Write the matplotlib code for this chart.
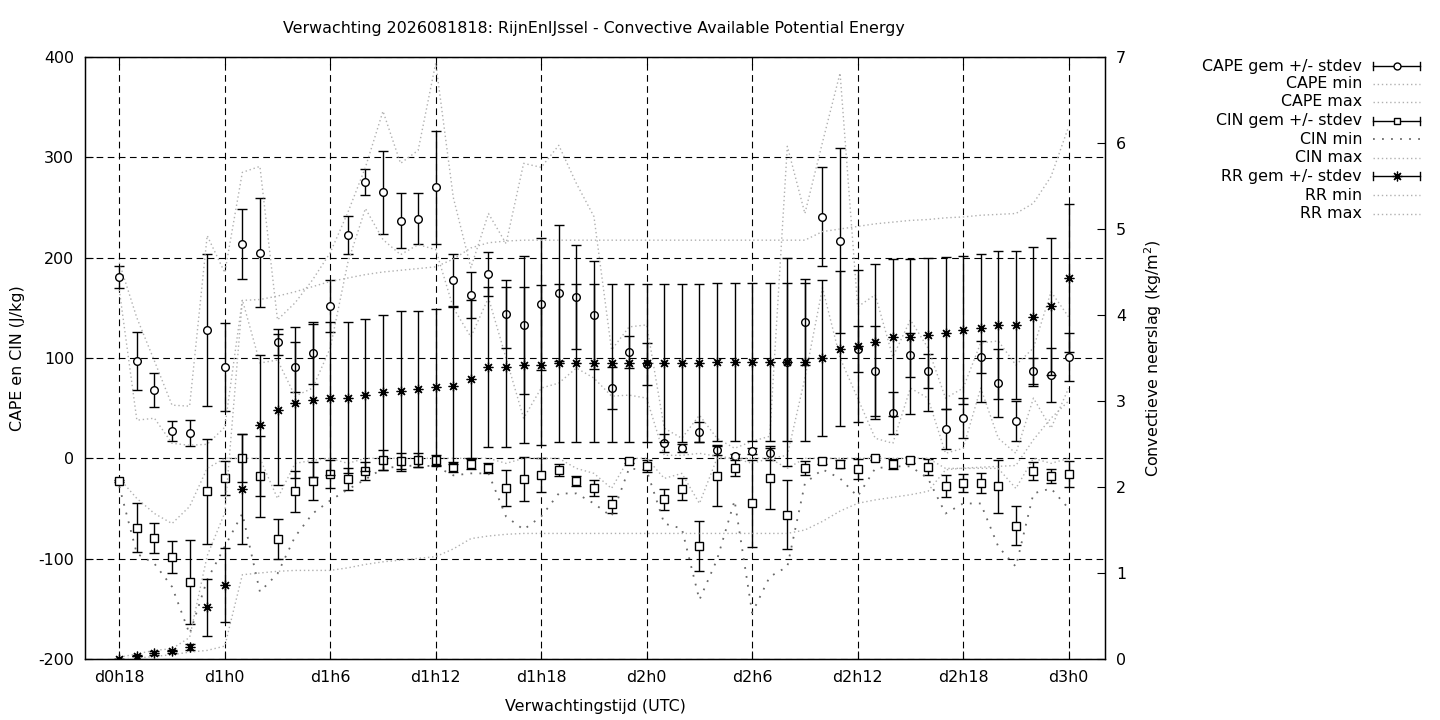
import matplotlib
matplotlib.use("Agg")
import matplotlib.pyplot as plt
from matplotlib.lines import Line2D

# ---------------- data (hours 18 .. 72, hourly) ----------------
hours = list(range(18, 73))
tick_hours = [18, 24, 30, 36, 42, 48, 54, 60, 66, 72]
tick_labels = ["d0h18", "d1h0", "d1h6", "d1h12", "d1h18", "d2h0", "d2h6", "d2h12", "d2h18", "d3h0"]

cape_mean = [181, 97, 68, 27, 25, 128, 91, 214, 205, 116, 91, 105, 152, 223, 275, 265, 237, 239, 270,
             178, 163, 184, 144, 133, 154, 165, 161, 143, 70, 106, 94, 15, 10, 26, 8, 2, 7, 5, 96,
             136, 241, 217, 109, 87, 45, 103, 87, 29, 40, 101, 75, 37, 87, 83, 101]
cape_sd = [11, 29, 17, 10, 13, 76, 44, 35, 54, 13, 25, 31, 26, 19, 13, 41, 27, 25, 56,
           26, 23, 22, 34, 69, 66, 68, 52, 54, 21, 16, 21, 9, 4, 10, 5, 2, 3, 7, 79,
           43, 49, 92, 23, 45, 21, 22, 17, 20, 20, 16, 34, 20, 13, 27, 24]
cape_min = [168, 38, 40, 15, 13, 14, 31, 158, 95, 98, 62, 70, 110, 195, 249, 218, 203, 213, 208,
            150, 121, 160, 100, 40, 70, 75, 90, 80, 62, 63, 60, 3, 3, 5, 2, 0, 0, 0, 3,
            80, 170, 100, 60, 20, 15, 70, 60, 5, 10, 70, 20, 5, 60, 30, 70]
cape_max = [195, 140, 97, 53, 52, 222, 185, 285, 291, 138, 155, 178, 205, 245, 290, 346, 294, 307, 394,
            260, 190, 244, 214, 294, 290, 312, 274, 241, 108, 131, 133, 30, 20, 43, 20, 10, 17, 22, 311,
            244, 315, 384, 151, 163, 101, 138, 110, 60, 70, 115, 117, 93, 110, 166, 141]

cin_mean = [-23, -69, -79, -98, -123, -33, -20, 0, -18, -80, -33, -23, -16, -21, -13, -2, -3, -2, -2,
            -9, -6, -10, -30, -21, -17, -12, -23, -30, -46, -3, -8, -41, -31, -87, -18, -10, -45, -20, -56,
            -10, -3, -6, -11, 0, -6, -2, -9, -28, -25, -25, -28, -67, -13, -18, -16]
cin_sd = [1, 24, 15, 16, 42, 52, 17, 24, 40, 20, 20, 19, 14, 11, 9, 10, 8, 7, 5,
          5, 5, 5, 18, 22, 17, 6, 5, 8, 8, 2, 6, 10, 11, 25, 30, 8, 43, 30, 34,
          7, 3, 4, 10, 2, 5, 3, 8, 11, 9, 10, 26, 19, 9, 7, 13]
cin_min = [-28, -95, -105, -128, -175, -121, -88, -55, -133, -115, -78, -55, -42, -31, -21, -10, -8, -7, -8,
           -17, -15, -15, -58, -71, -58, -35, -35, -45, -58, -10, -12, -65, -70, -141, -101, -42, -154, -118, -108,
           -25, -11, -20, -38, -10, -8, -8, -20, -55, -45, -45, -88, -108, -35, -30, -50]
cin_max = [-20, -40, -55, -65, -48, -10, 0, 0, 0, -40, -5, -2, 0, -5, 0, 0, 0, 0, 0,
           0, 0, 0, -5, 0, 0, 0, -10, -15, -30, 0, 0, -20, -15, -45, 0, 0, -5, 0, -10,
           0, 0, 0, 0, 0, 0, 0, 0, -10, -10, -10, -10, -30, 0, -5, 0]

rr_mean = [0.0, 0.04, 0.07, 0.09, 0.14, 0.60, 0.86, 1.98, 2.72, 2.90, 2.98, 3.01, 3.03, 3.04, 3.07, 3.10,
           3.12, 3.14, 3.16, 3.18, 3.26, 3.39, 3.40, 3.42, 3.42, 3.44, 3.44, 3.44, 3.44, 3.44, 3.44, 3.44,
           3.44, 3.44, 3.45, 3.45, 3.45, 3.45, 3.45, 3.45, 3.50, 3.61, 3.64, 3.69, 3.74, 3.75, 3.77, 3.79,
           3.83, 3.85, 3.88, 3.88, 3.98, 4.10, 4.43]
rr_sd = [0.0, 0.01, 0.02, 0.02, 0.03, 0.33, 0.43, 0.64, 0.82, 0.88, 0.88, 0.89, 0.89, 0.88, 0.88, 0.90,
         0.93, 0.91, 0.91, 0.91, 0.92, 0.93, 0.93, 0.91, 0.93, 0.92, 0.92, 0.92, 0.92, 0.92, 0.92, 0.92,
         0.92, 0.92, 0.92, 0.92, 0.92, 0.92, 1.21, 0.92, 0.91, 0.90, 0.88, 0.90, 0.91, 0.90, 0.89, 0.88,
         0.86, 0.86, 0.86, 0.86, 0.81, 0.80, 0.86]
rr_min = [0.0, 0.01, 0.03, 0.05, 0.08, 0.10, 0.15, 0.98, 1.00, 1.02, 1.03, 1.03, 1.03, 1.06, 1.10, 1.13,
          1.15, 1.17, 1.19, 1.28, 1.40, 1.43, 1.45, 1.46, 1.46, 1.46, 1.46, 1.46, 1.46, 1.46, 1.46, 1.46,
          1.46, 1.46, 1.46, 1.46, 1.46, 1.46, 1.46, 1.50, 1.60, 1.72, 1.81, 1.85, 1.88, 1.91, 1.95, 2.20,
          2.22, 2.23, 2.24, 2.25, 2.55, 2.80, 3.00]
rr_max = [0.02, 0.06, 0.10, 0.12, 0.25, 1.20, 1.70, 4.17, 4.18, 4.22, 4.27, 4.33, 4.39, 4.43, 4.47, 4.50,
          4.52, 4.54, 4.56, 4.65, 4.78, 4.84, 4.86, 4.87, 4.87, 4.87, 4.87, 4.87, 4.87, 4.87, 4.87, 4.87,
          4.87, 4.87, 4.87, 4.87, 4.87, 4.87, 4.87, 4.87, 4.97, 5.00, 5.03, 5.06, 5.08, 5.10, 5.11, 5.13,
          5.14, 5.16, 5.17, 5.18, 5.30, 5.61, 6.19]

title = "Verwachting 2026081818: RijnEnIJssel - Convective Available Potential Energy"
legend_labels = ["CAPE gem +/- stdev", "CAPE min", "CAPE max", "CIN gem +/- stdev", "CIN min",
                 "CIN max", "RR gem +/- stdev", "RR min", "RR max"]

# ---------------- styles ----------------
W, H = 1440, 720
FS = 11.4
LIGHT = dict(color="#b0b0b0", linestyle=(0, (1, 2)), linewidth=1.0)
DARK = dict(color="#6a6a6a", linestyle=(0, (1, 4)), linewidth=1.3)
STAR = (8, 2, 0)

plt.rcParams["font.family"] = ["DejaVu Sans"]
plt.rcParams["axes.unicode_minus"] = False
fig = plt.figure(figsize=(W / 100, H / 100), dpi=100)
fig.patch.set_facecolor("white")

L, R, T, B = 85, 1105, 57, 659
ax = fig.add_axes([L / W, 1 - B / H, (R - L) / W, (B - T) / H])
ax.set_xlim(16.05, 74.07)
ax.set_ylim(-200, 400)
ax.set_yticks(range(-200, 401, 100))
ax.set_xticks(tick_hours)
ax.set_xticklabels(tick_labels)
ax.grid(True, color="black", linestyle=(0, (6, 4)), linewidth=0.8, zorder=0)
ax.set_axisbelow(True)
ax.tick_params(axis="both", direction="in", length=6, width=0.8, labelsize=FS, pad=8)
ax.tick_params(axis="x", top=True)
ax.tick_params(axis="y", right=False)
for s in ax.spines.values():
    s.set_linewidth(1.0)

ebkw = dict(ecolor="black", elinewidth=1.0, capsize=3.5, capthick=1.0, linestyle="none")

# CAPE
ax.errorbar(hours, cape_mean, yerr=cape_sd, fmt="o", mfc="white", mec="black", mew=1.0, ms=5.5,
            zorder=3, **ebkw)
ax.plot(hours, cape_min, zorder=3, **LIGHT)
ax.plot(hours, cape_max, zorder=3, **LIGHT)
# CIN
ax.errorbar(hours, cin_mean, yerr=cin_sd, fmt="s", mfc="white", mec="black", mew=1.0, ms=5.5,
            zorder=4, **ebkw)
ax.plot(hours, cin_min, zorder=4, **DARK)
ax.plot(hours, cin_max, zorder=4, **LIGHT)

# RR on right axis
ax2 = ax.twinx()
ax2.set_ylim(0, 7)
ax2.set_yticks(range(0, 8))
ax2.tick_params(axis="y", direction="in", length=6, width=0.8, labelsize=FS, pad=8)
ax2.errorbar(hours, rr_mean, yerr=rr_sd, fmt="none", zorder=5, **ebkw)
ax2.plot(hours, rr_mean, linestyle="none", marker=STAR, ms=7, mec="black", mew=0.9, color="black", zorder=6)
ax2.plot(hours, rr_min, zorder=5, **LIGHT)
ax2.plot(hours, rr_max, zorder=5, **LIGHT)

# labels
fig.text(594 / W, 1 - 28 / H, title, ha="center", va="center", fontsize=FS)
fig.text(18 / W, 1 - 358 / H, "CAPE en CIN (J/kg)", rotation=90, ha="center", va="center", fontsize=FS)
fig.text(1153 / W, 1 - 358 / H, "Convectieve neerslag (kg/m$^2$)", rotation=90, ha="center", va="center",
         fontsize=FS)
fig.text(595 / W, 1 - 706 / H, "Verwachtingstijd (UTC)", ha="center", va="center", fontsize=FS)

# legend (gnuplot style: right aligned text, sample to the right)
lax = fig.add_axes([0, 0, 1, 1], zorder=10)
lax.set_xlim(0, W)
lax.set_ylim(H, 0)
lax.axis("off")
leg_y = [66, 84, 102, 121, 139, 158, 176, 195, 214]
x0, x1 = 1373, 1420
xm = (x0 + x1) / 2
for lab, y in zip(legend_labels, leg_y):
    lax.text(1362, y, lab, ha="right", va="center", fontsize=FS)
styles = ["eb_o", "light", "light", "eb_s", "dark", "light", "eb_star", "light", "light"]
for st, y in zip(styles, leg_y):
    if st.startswith("eb"):
        lax.add_line(Line2D([x0, x1], [y, y], color="black", lw=1.0))
        lax.add_line(Line2D([x0, x0], [y - 4, y + 4], color="black", lw=1.0))
        lax.add_line(Line2D([x1, x1], [y - 4, y + 4], color="black", lw=1.0))
        if st == "eb_o":
            lax.add_line(Line2D([xm], [y], marker="o", ms=5, mfc="white", mec="black", mew=1.0))
        elif st == "eb_s":
            lax.add_line(Line2D([xm], [y], marker="s", ms=5, mfc="white", mec="black", mew=1.0))
        else:
            lax.add_line(Line2D([xm], [y], marker=STAR, ms=7, mec="black", mew=0.9))
    elif st == "light":
        lax.add_line(Line2D([x0, x1], [y, y], **LIGHT))
    else:
        lax.add_line(Line2D([x0, x1], [y, y], **DARK))

fig.savefig("out.png", dpi=100, facecolor="white")
